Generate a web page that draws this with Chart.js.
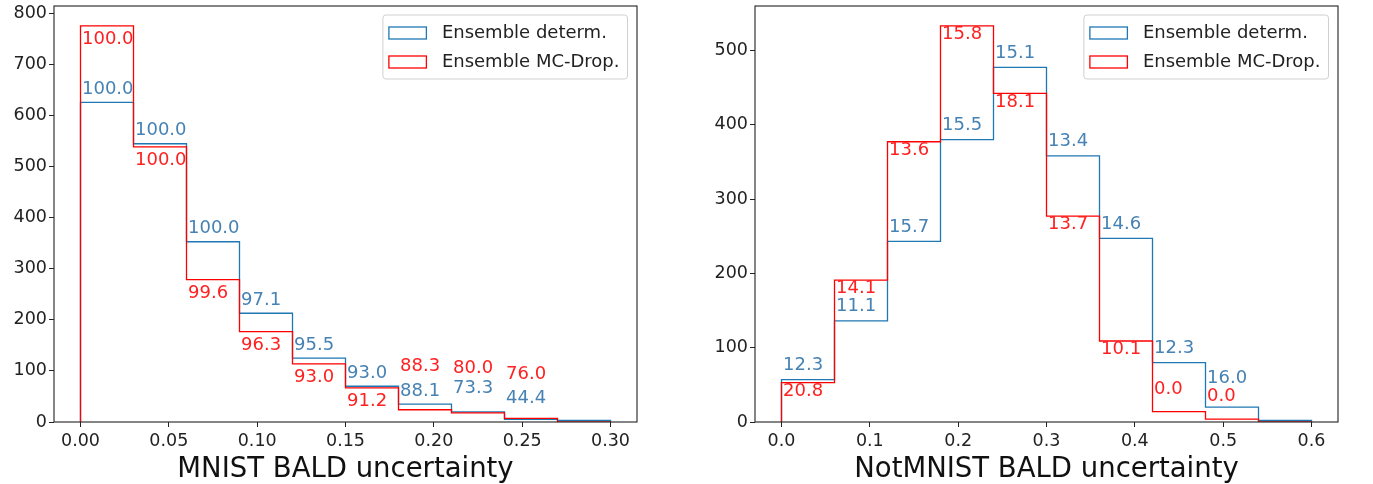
<!DOCTYPE html>
<html>
<head>
<meta charset="utf-8">
<script src="https://cdn.jsdelivr.net/npm/chart.js@4.4.0/dist/chart.umd.min.js"></script>
<style>
  body { margin: 0; background: #fff; }
  #wrap { position: relative; width: 1373px; height: 484px; }
  canvas { position: absolute; top: 0; }
</style>
</head>
<body>
<div id="wrap">
  <canvas id="leftChart" width="686" height="484" style="left:0"></canvas>
  <canvas id="rightChart" width="687" height="484" style="left:686px"></canvas>
</div>
<script>
const seriesNames = ['Ensemble determ.', 'Ensemble MC-Drop.'];

// MNIST panel
const mnistEdges = [0, 0.03, 0.06, 0.09, 0.12, 0.15, 0.18, 0.21, 0.24, 0.27, 0.30];
const mnistDeterm = [626, 545, 353, 213, 125, 70, 35, 20, 5, 3];
const mnistMCDrop = [776, 539, 279, 177, 114, 67, 24, 18, 7, 0];
const mnistDetermText = ['100.0', '100.0', '100.0', '97.1', '95.5', '93.0', '88.1', '73.3', '44.4'];
const mnistMCDropText = ['100.0', '100.0', '99.6', '96.3', '93.0', '91.2', '88.3', '80.0', '76.0'];
const mnistXTicks = [0, 0.05, 0.10, 0.15, 0.20, 0.25, 0.30];
const mnistXLabels = ['0.00', '0.05', '0.10', '0.15', '0.20', '0.25', '0.30'];
const mnistYTicks = [0, 100, 200, 300, 400, 500, 600, 700, 800];

// NotMNIST panel
const notEdges = [0, 0.06, 0.12, 0.18, 0.24, 0.30, 0.36, 0.42, 0.48, 0.54, 0.60];
const notDeterm = [57, 136, 243, 380, 477, 358, 247, 80, 20, 2];
const notMCDrop = [53, 191, 377, 533, 442, 277, 109, 14, 4, 0];
const notDetermText = ['12.3', '11.1', '15.7', '15.5', '15.1', '13.4', '14.6', '12.3', '16.0'];
const notMCDropText = ['20.8', '14.1', '13.6', '15.8', '18.1', '13.7', '10.1', '0.0', '0.0'];
const notXTicks = [0, 0.1, 0.2, 0.3, 0.4, 0.5, 0.6];
const notXLabels = ['0.0', '0.1', '0.2', '0.3', '0.4', '0.5', '0.6'];
const notYTicks = [0, 100, 200, 300, 400, 500];

// a few labels sit away from their bar top (data units of the label centre)
const mnistLabelMoves = [{ 7: 66, 8: 46 }, { 6: 110, 7: 106, 8: 93 }];
const notLabelMoves = [{ 8: 59 }, { 7: 44, 8: 34 }];

const FONT = 'DejaVu Sans';
const lineColors = ['#1f77b4', '#ff0000'];
const textColors = ['#4682b4', '#ff2020'];

function stepPoints(edges, h) {
    const pts = [{ x: edges[0], y: 0 }];
    for (let i = 0; i < h.length; i++) {
        pts.push({ x: edges[i], y: h[i] });
        pts.push({ x: edges[i + 1], y: h[i] });
    }
    pts.push({ x: edges[edges.length - 1], y: 0 });
    return pts;
}

// labels, axes box and legend, drawn over the step lines
function framePlugin(p) {
    const heights = [p.determ, p.mcdrop];
    const texts = [p.determText, p.mcdropText];
    return {
        id: 'frame',
        afterDatasetsDraw(chart) {
            const ctx = chart.ctx;
            const a = chart.chartArea;
            const xs = chart.scales.x, ys = chart.scales.y;

            ctx.save();
            ctx.font = '18px "' + FONT + '"';
            ctx.textAlign = 'left';
            ctx.textBaseline = 'middle';
            for (let s = 0; s < 2; s++) {
                ctx.fillStyle = textColors[s];
                for (let i = 0; i < texts[s].length; i++) {
                    const x = xs.getPixelForValue(p.edges[i]) + 1.5;
                    let y;
                    if (p.moves[s][i] !== undefined) {
                        y = ys.getPixelForValue(p.moves[s][i]);
                    } else {
                        y = ys.getPixelForValue(heights[s][i]) + p.offsets[s];
                    }
                    ctx.fillText(texts[s][i], x, y);
                }
            }
            ctx.restore();

            ctx.save();
            ctx.strokeStyle = '#222';
            ctx.lineWidth = 1.1;
            ctx.strokeRect(a.left, a.top, a.right - a.left, a.bottom - a.top);
            ctx.restore();

            ctx.save();
            ctx.font = '18px "' + FONT + '"';
            const tw = Math.max(...seriesNames.map(n => ctx.measureText(n).width));
            const w = 59 + tw + 8, h = 64;
            const bx = a.right - 9.5 - w, by = a.top + 9;
            ctx.beginPath();
            ctx.roundRect(bx, by, w, h, 3);
            ctx.fillStyle = 'rgba(255,255,255,0.8)';
            ctx.fill();
            ctx.strokeStyle = '#d0d0d0';
            ctx.lineWidth = 1;
            ctx.stroke();
            for (let s = 0; s < 2; s++) {
                const cy = by + 18 + s * 29;
                ctx.strokeStyle = lineColors[s];
                ctx.lineWidth = 1.3;
                ctx.strokeRect(bx + 6, cy - 6, 37.5, 12);
                ctx.fillStyle = '#222';
                ctx.textBaseline = 'middle';
                ctx.fillText(seriesNames[s], bx + 59, cy);
            }
            ctx.restore();
        }
    };
}

function makeChart(id, p) {
    const span = p.edges[p.edges.length - 1] - p.edges[0];
    const yMax = Math.max(...p.determ, ...p.mcdrop) * 1.05;
    return new Chart(document.getElementById(id), {
        type: 'line',
        data: {
            datasets: [
                { label: seriesNames[0], data: stepPoints(p.edges, p.determ), borderColor: lineColors[0], order: 1 },
                { label: seriesNames[1], data: stepPoints(p.edges, p.mcdrop), borderColor: lineColors[1], order: 0 }
            ]
        },
        options: {
            responsive: false,
            animation: false,
            devicePixelRatio: 1,
            elements: {
                line: { borderWidth: 1.3, tension: 0, fill: false, borderJoinStyle: 'miter' },
                point: { radius: 0, hoverRadius: 0 }
            },
            layout: { padding: { left: 0, right: p.padRight, top: 6, bottom: 0 } },
            plugins: {
                legend: { display: false },
                tooltip: { enabled: false }
            },
            scales: {
                x: {
                    type: 'linear',
                    min: p.edges[0] - span * 0.05,
                    max: p.edges[p.edges.length - 1] + span * 0.05,
                    afterBuildTicks: s => { s.ticks = p.xTicks.map(v => ({ value: v })); },
                    afterFit: s => { s.height = 62; s.paddingLeft = 0; s.paddingRight = 0; },
                    grid: { drawOnChartArea: false, drawTicks: true, tickLength: 5, tickColor: '#222', tickWidth: 1 },
                    border: { display: false },
                    ticks: {
                        autoSkip: false, maxRotation: 0, padding: 4,
                        color: '#222', font: { family: FONT, size: 17.5 },
                        callback: (v, i) => p.xLabels[i]
                    },
                    title: {
                        display: true, text: p.title, color: '#111',
                        font: { family: FONT, size: 27.5, lineHeight: 1 },
                        padding: { top: 0, bottom: 0 }
                    }
                },
                y: {
                    type: 'linear',
                    min: 0,
                    max: yMax,
                    afterBuildTicks: s => { s.ticks = p.yTicks.map(v => ({ value: v })); },
                    afterFit: s => { s.width = p.yWidth; s.paddingTop = 0; s.paddingBottom = 0; },
                    grid: { drawOnChartArea: false, drawTicks: true, tickLength: 5, tickColor: '#222', tickWidth: 1 },
                    border: { display: false },
                    ticks: {
                        autoSkip: false, padding: 2,
                        color: '#222', font: { family: FONT, size: 17.5 },
                        callback: v => String(v)
                    }
                }
            }
        },
        plugins: [framePlugin(p)]
    });
}

makeChart('leftChart', {
    edges: mnistEdges, determ: mnistDeterm, mcdrop: mnistMCDrop,
    determText: mnistDetermText, mcdropText: mnistMCDropText,
    moves: mnistLabelMoves, offsets: [-13, 14],
    xTicks: mnistXTicks, xLabels: mnistXLabels, yTicks: mnistYTicks,
    title: 'MNIST BALD uncertainty', yWidth: 54, padRight: 49
});

makeChart('rightChart', {
    edges: notEdges, determ: notDeterm, mcdrop: notMCDrop,
    determText: notDetermText, mcdropText: notMCDropText,
    moves: notLabelMoves, offsets: [-14.5, 8.5],
    xTicks: notXTicks, xLabels: notXLabels, yTicks: notYTicks,
    title: 'NotMNIST BALD uncertainty', yWidth: 69, padRight: 35
});
</script>
</body>
</html>
